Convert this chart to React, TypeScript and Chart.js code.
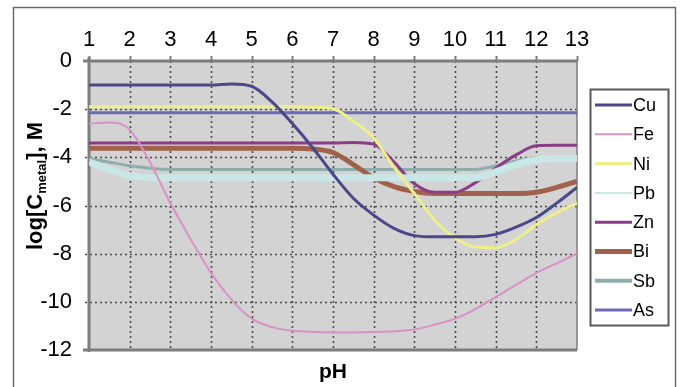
import React, { useEffect, useRef } from "react";
import { Chart, registerables } from "chart.js";

Chart.register(...registerables);

// pH sample points (shared by every series)
const pH = [1, 1.5, 2, 2.5, 3, 3.5, 4, 4.5, 5, 5.5, 6, 6.5, 7, 7.5, 8, 8.5, 9, 9.5, 10, 10.5, 11, 11.5, 12, 12.5, 13];

// log[C_metal], M for each metal
const cu = [-1, -1, -1, -1, -1, -1, -1, -0.95, -1.05, -1.7, -2.6, -3.6, -4.7, -5.7, -6.4, -6.95, -7.25, -7.3, -7.3, -7.3, -7.2, -6.9, -6.5, -5.9, -5.25];
const fe = [-2.6, -2.55, -2.85, -4.2, -5.9, -7.4, -8.8, -9.9, -10.7, -11.05, -11.2, -11.25, -11.27, -11.27, -11.25, -11.22, -11.15, -10.95, -10.7, -10.3, -9.8, -9.3, -8.8, -8.4, -8.0];
const ni = [-1.9, -1.9, -1.9, -1.9, -1.9, -1.9, -1.9, -1.9, -1.9, -1.9, -1.9, -1.92, -1.98, -2.5, -3.2, -4.4, -5.5, -6.6, -7.35, -7.72, -7.75, -7.4, -6.8, -6.3, -5.9];
const pb = [-4.2, -4.5, -4.75, -4.85, -4.85, -4.85, -4.85, -4.85, -4.85, -4.85, -4.85, -4.85, -4.85, -4.85, -4.85, -4.85, -4.85, -4.85, -4.85, -4.85, -4.6, -4.3, -4.1, -4.05, -4.05];
const zn = [-3.4, -3.4, -3.4, -3.4, -3.4, -3.4, -3.4, -3.4, -3.4, -3.4, -3.4, -3.4, -3.4, -3.38, -3.45, -4.2, -5.1, -5.45, -5.45, -5.05, -4.45, -3.9, -3.52, -3.5, -3.5];
const bi = [-3.62, -3.62, -3.62, -3.62, -3.62, -3.62, -3.62, -3.62, -3.62, -3.62, -3.62, -3.65, -3.8, -4.3, -4.85, -5.22, -5.42, -5.5, -5.5, -5.5, -5.5, -5.5, -5.45, -5.25, -5.0];
const sb = [-4.05, -4.2, -4.35, -4.45, -4.5, -4.5, -4.5, -4.5, -4.5, -4.5, -4.5, -4.5, -4.5, -4.5, -4.5, -4.5, -4.5, -4.5, -4.5, -4.5, -4.35, -4.15, -4.02, -4.0, -4.0];
const as = [-2.15, -2.15, -2.15, -2.15, -2.15, -2.15, -2.15, -2.15, -2.15, -2.15, -2.15, -2.15, -2.15, -2.15, -2.15, -2.15, -2.15, -2.15, -2.15, -2.15, -2.15, -2.15, -2.15, -2.15, -2.15];

const seriesNames = ["Cu", "Fe", "Ni", "Pb", "Zn", "Bi", "Sb", "As"];
const seriesValues = [cu, fe, ni, pb, zn, bi, sb, as];
const seriesColors = ["#4a4888", "#d892c6", "#eeee8c", "#c9e7e6", "#8a3c88", "#a0624c", "#8eaead", "#6c6cb2"];
const seriesWidths = [3, 2, 3, 7, 3, 5, 3, 3];
const legendWidths = [3, 2, 3, 2, 3, 5, 4, 3];

const xTitle = "pH";
const yTitleMain = "log[C";
const yTitleSub = "metal";
const yTitleEnd = "], M";

const FONT = "'Liberation Sans', Arial, sans-serif";

const framePlugin = {
  id: "framePlugin",
  beforeDraw(chart: any) {
    const { ctx, chartArea: a } = chart;
    ctx.save();
    ctx.fillStyle = "#ffffff";
    ctx.fillRect(0, 0, chart.width, chart.height);
    ctx.strokeStyle = "#6a6a6a";
    ctx.lineWidth = 1.5;
    ctx.strokeRect(13.5, 7.5, 662, 400);
    ctx.fillStyle = "#d3d3d3";
    ctx.fillRect(a.left, a.top, a.right - a.left, a.bottom - a.top);
    ctx.restore();
  },
  beforeDatasetsDraw(chart: any) {
    const { ctx, chartArea: a } = chart;
    const xs = chart.scales.x;
    const ys = chart.scales.y;
    ctx.save();
    ctx.strokeStyle = "#4a4a4a";
    ctx.lineWidth = 1.6;
    ctx.setLineDash([2, 3]);
    xs.ticks.forEach((t: any) => {
      const px = Math.round(xs.getPixelForValue(t.value)) + 0.5;
      if (px <= a.left + 1 || px >= a.right - 1) return;
      ctx.beginPath();
      ctx.moveTo(px, a.top);
      ctx.lineTo(px, a.bottom);
      ctx.stroke();
    });
    ys.ticks.forEach((t: any) => {
      const py = Math.round(ys.getPixelForValue(t.value)) + 0.5;
      if (py <= a.top + 1 || py >= a.bottom - 1) return;
      ctx.beginPath();
      ctx.moveTo(a.left - 4, py);
      ctx.lineTo(a.right, py);
      ctx.stroke();
    });
    ctx.setLineDash([]);
    // frame
    ctx.strokeStyle = "#7c7c7c";
    ctx.lineWidth = 3;
    ctx.beginPath();
    ctx.moveTo(a.left - 6, a.top);
    ctx.lineTo(a.right, a.top);
    ctx.moveTo(a.left, a.top - 4);
    ctx.lineTo(a.left, a.bottom + 2);
    ctx.moveTo(a.left - 6, a.bottom);
    ctx.lineTo(a.right, a.bottom);
    ctx.stroke();
    ctx.lineWidth = 1.5;
    ctx.beginPath();
    ctx.moveTo(a.right, a.top);
    ctx.lineTo(a.right, a.bottom);
    ctx.stroke();
    // small tick marks on top axis
    ctx.lineWidth = 2;
    xs.ticks.forEach((t: any) => {
      const px = Math.round(xs.getPixelForValue(t.value)) + 0.5;
      ctx.beginPath();
      ctx.moveTo(px, a.top - 5);
      ctx.lineTo(px, a.top);
      ctx.stroke();
    });
    ctx.restore();
  },
  afterDraw(chart: any) {
    const { ctx, chartArea: a } = chart;
    ctx.save();
    // x title
    ctx.fillStyle = "#000";
    ctx.font = `bold 21px ${FONT}`;
    ctx.textAlign = "center";
    ctx.textBaseline = "alphabetic";
    ctx.fillText(xTitle, (a.left + a.right) / 2, 378);

    // y title (rotated, with subscript)
    const big = `bold 22px ${FONT}`;
    const small = `bold 13px ${FONT}`;
    ctx.font = big;
    const w1 = ctx.measureText(yTitleMain).width;
    const w3 = ctx.measureText(yTitleEnd).width;
    ctx.font = small;
    const w2 = ctx.measureText(yTitleSub).width;
    const total = w1 + w2 + w3;
    ctx.translate(42, 186);
    ctx.rotate(-Math.PI / 2);
    ctx.textAlign = "left";
    let x = -total / 2;
    ctx.font = big;
    ctx.fillText(yTitleMain, x, 0);
    x += w1;
    ctx.font = small;
    ctx.fillText(yTitleSub, x, 4);
    x += w2;
    ctx.font = big;
    ctx.fillText(yTitleEnd, x, 0);
    ctx.restore();

    // legend
    ctx.save();
    const lx = 590, ly = 89, lw = 78, lh = 236;
    ctx.fillStyle = "#ffffff";
    ctx.fillRect(lx, ly, lw, lh);
    ctx.strokeStyle = "#5a5a5a";
    ctx.lineWidth = 2;
    ctx.strokeRect(lx + 0.5, ly + 0.5, lw, lh);
    ctx.font = `18px ${FONT}`;
    ctx.textBaseline = "middle";
    ctx.textAlign = "left";
    chart.data.datasets.forEach((ds: any, i: number) => {
      const cy = ly + 16 + i * 29.3;
      ctx.strokeStyle = ds.borderColor;
      ctx.lineWidth = legendWidths[i];
      ctx.beginPath();
      ctx.moveTo(lx + 5, cy);
      ctx.lineTo(lx + 42, cy);
      ctx.stroke();
      ctx.fillStyle = "#000";
      ctx.fillText(ds.label, lx + 43, cy + 1);
    });
    ctx.restore();
  },
};

export default function App() {
  const ref = useRef<HTMLCanvasElement | null>(null);
  useEffect(() => {
    if (!ref.current) return;
    const chart = new Chart(ref.current, {
      type: "line",
      data: {
        datasets: seriesNames.map((name, i) => ({
          label: name,
          data: pH.map((x, j) => ({ x, y: seriesValues[i][j] })),
          borderColor: seriesColors[i],
          backgroundColor: seriesColors[i],
          borderWidth: seriesWidths[i],
          pointRadius: 0,
          tension: 0.35,
          cubicInterpolationMode: "monotone" as const,
          fill: false,
        })),
      },
      options: {
        animation: false,
        responsive: false,
        maintainAspectRatio: false,
        layout: { padding: { left: 0, top: 0, right: 107, bottom: 37 } },
        plugins: { legend: { display: false }, tooltip: { enabled: false } },
        scales: {
          x: {
            type: "linear",
            position: "top",
            min: 1,
            max: 13,
            afterFit: (s: any) => { s.height = 61; },
            ticks: { stepSize: 1, color: "#000", padding: 8, font: { size: 22, family: FONT } },
            grid: { display: false, drawTicks: false },
            border: { display: false },
          },
          y: {
            type: "linear",
            min: -12,
            max: 0,
            afterFit: (s: any) => { s.width = 89; },
            ticks: { stepSize: 2, color: "#000", padding: 17, font: { size: 22, family: FONT } },
            grid: { display: false, drawTicks: false },
            border: { display: false },
          },
        },
      },
      plugins: [framePlugin],
    });
    return () => chart.destroy();
  }, []);
  return (
    <div style={{ position: "absolute", left: 0, top: 0, width: 684, height: 387 }}>
      <canvas ref={ref} width={684} height={387} />
    </div>
  );
}
